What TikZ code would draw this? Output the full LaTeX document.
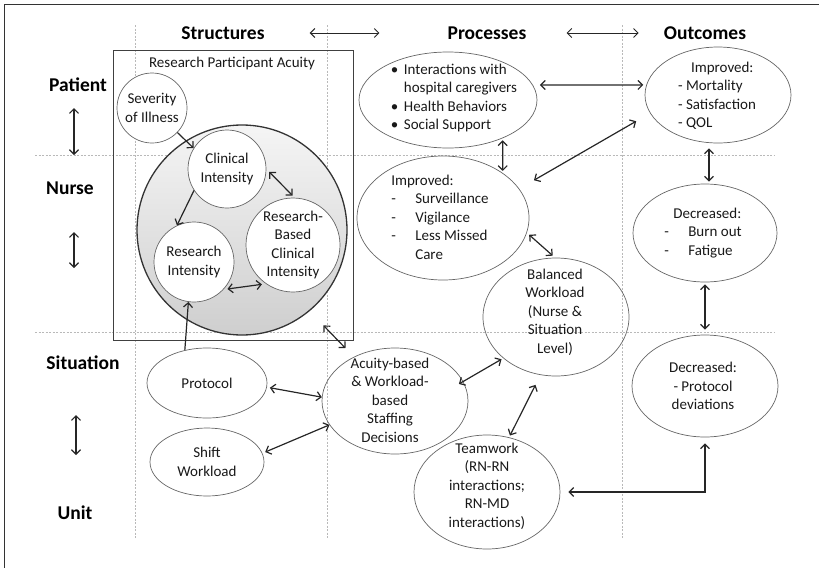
\documentclass[tikz,border=0pt]{standalone}
\usepackage{fontspec}
\setmainfont{Carlito}
\usetikzlibrary{shapes.geometric, arrows.meta, positioning}

\tikzset{
  txt/.style={font=\fontsize{15pt}{18.5pt}\selectfont, align=center, inner sep=0pt, text=black!90},
  head/.style={font=\bfseries\fontsize{19.5pt}{22pt}\selectfont, inner sep=0pt},
  oval/.style={ellipse, draw=black!60, line width=0.7pt, inner sep=0pt, txt},
  bubble/.style={circle, draw=black!60, fill=white, line width=0.7pt, inner sep=0pt, txt},
  link/.style={line width=1.2pt, draw=black!85},
  guide/.style={draw=gray!55, dash pattern=on 2pt off 1.5pt, line width=0.5pt},
  >={Straight Barb[length=4.5pt,width=9pt]}
}

\begin{document}
\begin{tikzpicture}[x=1pt, y=-1pt]
\useasboundingbox (0,0) rectangle (819,568);
% frame and grid
\draw[line width=1pt, black!80] (819,4) -- (4,4) -- (4,568);
\foreach \gx in {135,327,622}
  \draw[guide] (\gx,25) -- (\gx,538);
\foreach \gy in {155,332}
  \draw[guide] (35,\gy) -- (775,\gy);

% column heads
\node[head] (struct) at (223,33) {Structures};
\node[head] (proc) at (487,33) {Processes};
\node[head] (outc) at (705,33) {Outcomes};
\draw[link, <->, line width=1pt, shorten <=45pt, shorten >=68pt] (struct.east) -- (proc.west);
\draw[link, <->, line width=1pt, shorten <=40pt, shorten >=25pt] (proc.east) -- (outc.west);

% row heads
\node[head] (patient) at (78,85) {Patient};
\node[head] (nurse) at (70,188) {Nurse};
\node[head] (situation) at (83,363) {Situation};
\node[head] (unit) at (75,513) {Unit};
\coordinate (pn1) at (74,108);
\coordinate (pn2) at (74,155);
\coordinate (ns1) at (74,232);
\coordinate (ns2) at (74,268);
\coordinate (su1) at (76,415);
\coordinate (su2) at (76,455);
\draw[link, <->] (pn1) -- (pn2);
\draw[link, <->] (ns1) -- (ns2);
\draw[link, <->] (su1) -- (su2);

% structures
\node[draw=black!75, line width=0.9pt, minimum width=240pt, minimum height=290pt, inner sep=0pt] (rpa) at (233,195) {};
\node[txt] (rpatitle) at (232,63) {Research Participant Acuity};
\node[circle, draw=black!80, line width=1.3pt, top color=gray!8, bottom color=gray!38,
      minimum size=210pt, inner sep=0pt] (ball) at (242,230) {};
\node[bubble, minimum size=70pt] (sev) at (152,108) {Severity\\of Illness};
\node[bubble, minimum size=78pt] (clin) at (227,169) {Clinical\\Intensity};
\node[bubble, minimum size=80pt] (resint) at (194,262) {Research\\Intensity};
\node[bubble, minimum size=94pt] (rbci) at (293,245) {Research-\\Based\\Clinical\\Intensity};
\node[oval, minimum width=120pt, minimum height=70pt] (protocol) at (207,383) {Protocol};
\node[oval, minimum width=114pt, minimum height=68pt] (shift) at (207,462) {Shift\\Workload};

% processes
\node[oval, minimum width=178pt, minimum height=96pt] (interact) at (448,100) {};
\node[txt, align=left] (interacttxt) at (454,98) {\makebox[13pt][l]{\textbullet}Interactions with\\\hspace*{13pt}hospital caregivers\\\makebox[13pt][l]{\textbullet}Health Behaviors\\\makebox[13pt][l]{\textbullet}Social Support};
\node[oval, minimum width=172pt, minimum height=124pt] (impnurse) at (443,218) {};
\node[txt, align=left] (impnursetxt) at (440,217) {Improved:\\\makebox[24pt][l]{-}Surveillance\\\makebox[24pt][l]{-}Vigilance\\\makebox[24pt][l]{-}Less Missed\\\hspace*{24pt}Care};
\node[oval, minimum width=146pt, minimum height=106pt] (acuity) at (395,401) {};
\node[txt] (acuitytxt) at (390,400) {Acuity-based\\\& Workload-\\based\\Staffing\\Decisions};
\node[oval, minimum width=146pt, minimum height=118pt] (balanced) at (556,317) {};
\node[txt] (balancedtxt) at (555,312) {Balanced\\Workload\\(Nurse \&\\Situation\\Level)};
\node[oval, minimum width=146pt, minimum height=114pt] (teamwork) at (487,492) {};
\node[txt] (teamworktxt) at (487,486) {Teamwork\\(RN-RN\\interactions;\\RN-MD\\interactions)};

% outcomes
\node[oval, minimum width=146pt, minimum height=96pt] (impout) at (718,95) {};
\node[txt, align=left] (impouttxt) at (717,96) {\hspace*{13pt}Improved:\\- Mortality\\- Satisfaction\\- QOL};
\node[oval, minimum width=144pt, minimum height=98pt] (decburn) at (705,233) {};
\node[txt, align=left] (decburntxt) at (703,233) {\hspace*{9pt}Decreased:\\\makebox[24pt][l]{-}Burn out\\\makebox[24pt][l]{-}Fatigue};
\node[oval, minimum width=146pt, minimum height=102pt] (decprot) at (705,386) {};
\node[txt] (decprottxt) at (703,386) {Decreased:\\- Protocol\\deviations};

% links inside the acuity box
\draw[link, ->] (sev.-44) -- (clin.148);
\draw[link, ->] (clin.213) -- (resint.115);
\draw[link, <->, shorten <=4pt, shorten >=3pt] (clin.0) -- (rbci.88);
\draw[link, <->, shorten <=4pt, shorten >=4pt] (resint.-43) -- (rbci.-125);
\draw[link, ->] (protocol.124) -- (resint.-98);

% links between columns
\draw[link, <->, shorten >=12pt] ([shift={(-30pt,15pt)}]rpa.south east) -- (acuity.133);
\draw[link, <->, shorten <=3pt] (protocol.-4) -- (acuity.177);
\draw[link, <->, shorten <=3pt] (shift.9) -- (acuity.200);
\draw[link, <->, shorten <=-5pt, shorten >=2pt] (acuity.16) -- (balanced.218);
\draw[link, <->, shorten <=11pt, shorten >=2pt] (balanced.-105) -- (teamwork.68);
\draw[link, <->] ([xshift=8pt]teamwork.east) -| ([yshift=-6pt]decprot.south);
\draw[link, <->] ([yshift=-2pt]decburn.south) -- ([yshift=5pt]decprot.north);
\draw[link, <->] ([xshift=-9pt,yshift=-5pt]impout.south) -- ([xshift=4pt,yshift=2pt]decburn.north);
\draw[link, <->, shorten <=7pt, shorten >=3pt] (interact.10) -- (impout.172);
\draw[link, <->, shorten <=17pt, shorten >=16pt] (impnurse.21) -- (impout.195);
\draw[link, <->, shorten <=2pt, shorten >=2pt] (interact.-35) -- (impnurse.37);
\draw[link, <->, shorten <=3pt, shorten >=3pt] (impnurse.-10) -- (balanced.91);
\end{tikzpicture}
\end{document}
